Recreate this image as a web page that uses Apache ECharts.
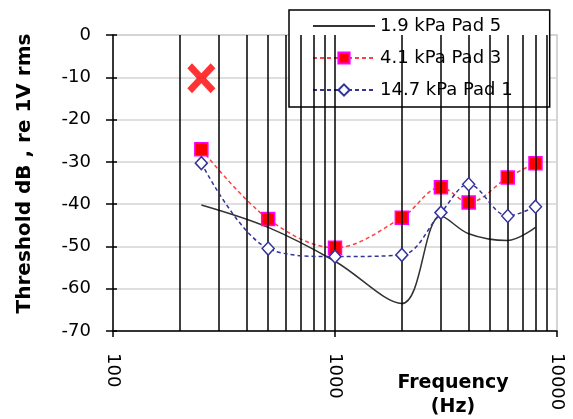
<!DOCTYPE html>
<html>
<head>
<meta charset="utf-8">
<script src="https://cdn.jsdelivr.net/npm/echarts@6/dist/echarts.min.js"></script>
<style>
html,body{margin:0;padding:0;background:#fff;}
#chart{width:573px;height:419px;}
</style>
</head>
<body>
<div id="chart"></div>
<script>
// ---- data ----
const freqs = [250, 500, 1000, 2000, 3000, 4000, 6000, 8000];
const pad5 = [-40.2, -45.5, -53.5, -63.5, -42.8, -47.0, -48.6, -45.5];
const pad3 = [-27.0, -43.5, -50.3, -43.2, -36.0, -39.6, -33.7, -30.3];
const pad1 = [-30.3, -50.5, -52.4, -52.0, -42.0, -35.3, -42.8, -40.6];
const crossPoint = [[250, -10.2]];
const seriesNames = ['1.9 kPa Pad 5', '4.1 kPa Pad 3', '14.7 kPa Pad 1'];
const gridFreqs = [200, 300, 400, 500, 600, 700, 800, 900, 1000, 2000, 3000, 4000, 5000, 6000, 7000, 8000, 9000];
const yTitle = 'Threshold dB , re 1V rms';
const xTitle = 'Frequency\n(Hz)';

const pairs = (ys) => freqs.map((f, i) => [f, ys[i]]);
const FONT = 'DejaVu Sans';

const chart = echarts.init(document.getElementById('chart'), null, {renderer: 'canvas'});
chart.setOption({
  animation: false,
  backgroundColor: '#fff',
  grid: {left: 113, right: 16, top: 35, bottom: 88, show: true, borderColor: '#c8c8c8', borderWidth: 1.5, backgroundColor: 'transparent'},
  legend: {
    data: [
      {name: seriesNames[0], itemStyle: {color: 'rgba(0,0,0,0)', borderWidth: 0}},
      {name: seriesNames[1]},
      {name: seriesNames[2]}
    ],
    orient: 'vertical',
    left: 289, top: 10,
    padding: [7, 37, 8, 23],
    itemWidth: 62, itemHeight: 14, itemGap: 14,
    backgroundColor: '#fff',
    borderColor: '#000', borderWidth: 1.5,
    textStyle: {fontFamily: FONT, fontSize: 18, color: '#000'}
  },
  xAxis: {
    type: 'log', logBase: 10, min: 100, max: 10000,
    axisLine: {onZero: false, lineStyle: {color: '#000', width: 1.5}},
    axisTick: {show: true, length: 6, lineStyle: {color: '#000', width: 1.5}},
    axisLabel: {rotate: -90, margin: 22, fontFamily: FONT, fontSize: 18, color: '#000',
      formatter: (v) => String(Math.round(v))},
    splitLine: {show: false}
  },
  yAxis: [{
    type: 'value', min: -70, max: 0, interval: 10,
    axisLine: {show: true, onZero: false, lineStyle: {color: '#000', width: 1.5}},
    axisTick: {show: true, length: 7, lineStyle: {color: '#000', width: 1.5}},
    axisLabel: {margin: 22, fontFamily: FONT, fontSize: 18, color: '#000'},
    splitLine: {show: true, lineStyle: {color: '#d4d4d4', width: 1.5}}
  }, {
    type: 'value', min: -70, max: 0, interval: 10, position: 'left', offset: 0,
    axisLine: {show: false, onZero: false},
    axisTick: {show: true, inside: true, length: 4, lineStyle: {color: '#000', width: 1.5}},
    axisLabel: {show: false},
    splitLine: {show: false}
  }],
  graphic: [
    {type: 'text', x: 25, y: 173.5, rotation: Math.PI / 2,
      style: {text: yTitle, fontFamily: FONT, fontWeight: 'bold', fontSize: 20, fill: '#000', align: 'center', verticalAlign: 'middle'}},
    {type: 'text', x: 453, y: 395,
      style: {text: xTitle, fontFamily: FONT, fontWeight: 'bold', fontSize: 19, lineHeight: 24, fill: '#000', align: 'center', verticalAlign: 'middle'}}
  ],
  series: [
    {
      type: 'line', name: '_grid', data: [], z: 1, silent: true,
      markLine: {silent: true, symbol: ['none', 'none'], label: {show: false},
        lineStyle: {color: '#000', width: 1.5, type: 'solid'},
        emphasis: {disabled: true},
        data: gridFreqs.map(f => ({xAxis: f}))}
    },
    {
      type: 'line', name: seriesNames[0], data: pairs(pad5), smooth: 0.35,
      symbol: 'none', z: 3,
      lineStyle: {color: '#333333', width: 1.5},
      itemStyle: {color: '#333333'}
    },
    {
      type: 'line', name: seriesNames[1], data: pairs(pad3), smooth: 0.35,
      symbol: 'rect', symbolSize: 13, showAllSymbol: true, z: 4,
      lineStyle: {color: '#ff4040', width: 1.5, type: [4, 3]},
      itemStyle: {color: '#ff0000', borderColor: '#ff00ff', borderWidth: 1.5}
    },
    {
      type: 'line', name: seriesNames[2], data: pairs(pad1), smooth: 0.35,
      symbol: 'diamond', symbolSize: [12, 13], showAllSymbol: true, z: 5,
      lineStyle: {color: '#333399', width: 1.5, type: [4, 3]},
      itemStyle: {color: '#ffffff', borderColor: '#333399', borderWidth: 1.5}
    },
    {
      type: 'scatter', name: '_x', data: crossPoint, z: 6,
      symbol: 'path://M0,4 L4,0 L12,8 L20,0 L24,4 L16,12 L24,20 L20,24 L12,16 L4,24 L0,20 L8,12 Z',
      symbolSize: [28, 30],
      itemStyle: {color: '#ff0000'}
    }
  ]
});
</script>
</body>
</html>
